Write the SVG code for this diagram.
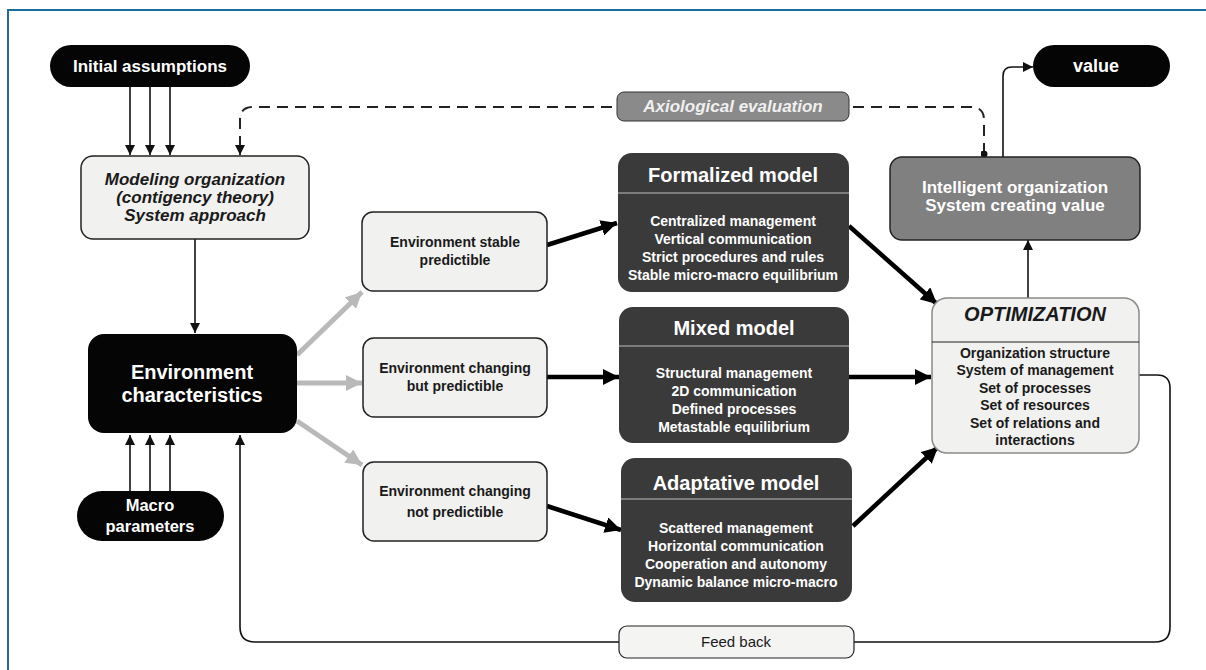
<svg xmlns="http://www.w3.org/2000/svg" width="1206" height="670" viewBox="0 0 1206 670">
  <defs>
    <marker id="ah" viewBox="0 0 10 10" refX="10" refY="5" markerWidth="10" markerHeight="11" markerUnits="userSpaceOnUse" orient="auto">
      <path d="M0,0 L10,5 L0,10 z" fill="#111"/>
    </marker>
    <marker id="ahBig" viewBox="0 0 10 10" refX="10" refY="5" markerWidth="16" markerHeight="16" markerUnits="userSpaceOnUse" orient="auto">
      <path d="M0,0 L10,5 L0,10 z" fill="#000"/>
    </marker>
    <marker id="ahGray" viewBox="0 0 10 10" refX="10" refY="5" markerWidth="16" markerHeight="16" markerUnits="userSpaceOnUse" orient="auto">
      <path d="M0,0 L10,5 L0,10 z" fill="#b9b9b9"/>
    </marker>
    <marker id="dot" viewBox="0 0 10 10" refX="5" refY="5" markerWidth="7" markerHeight="7" markerUnits="userSpaceOnUse">
      <circle cx="5" cy="5" r="5" fill="#111"/>
    </marker>
    <style>
      text { font-family: "Liberation Sans", Arial, sans-serif; font-weight: bold; text-anchor: middle; }
      .pill { fill: #050505; }
      .light { fill: #f1f1ef; stroke: #222; stroke-width: 1.5; }
      .dark { fill: #3a3a3a; }
      .w { fill: #ffffff; }
      .k { fill: #1a1a1a; }
      .it { font-style: italic; }
      .n { font-weight: normal; }
      .thin { fill: none; stroke: #111; stroke-width: 1.6; }
      .thick { fill: none; stroke: #000; stroke-width: 4.5; }
      .gray { fill: none; stroke: #b9b9b9; stroke-width: 5; }
      .dash { fill: none; stroke: #222; stroke-width: 2; stroke-dasharray: 11 7; }
    </style>
  </defs>

  <rect width="1206" height="670" fill="#ffffff"/>
  <!-- frame -->
  <path d="M8,670 L8,10 L1206,10" fill="none" stroke="#1b6d9b" stroke-width="2"/>

  <!-- connectors -->
  <g id="connectors">
    <line class="thin" x1="130" y1="87" x2="130" y2="155" marker-end="url(#ah)"/>
    <line class="thin" x1="150" y1="87" x2="150" y2="155" marker-end="url(#ah)"/>
    <line class="thin" x1="170" y1="87" x2="170" y2="155" marker-end="url(#ah)"/>
    <line class="thin" x1="195" y1="239" x2="195" y2="333" marker-end="url(#ah)"/>
    <line class="thin" x1="130" y1="491" x2="130" y2="435" marker-end="url(#ah)"/>
    <line class="thin" x1="150" y1="491" x2="150" y2="435" marker-end="url(#ah)"/>
    <line class="thin" x1="170" y1="491" x2="170" y2="435" marker-end="url(#ah)"/>
    <!-- feedback loop -->
    <path class="thin" d="M1139,375 L1157,375 Q1170,375 1170,388 L1170,627 Q1170,642 1155,642 L255,642 Q240,642 240,627 L240,435" marker-end="url(#ah)"/>
    <!-- axiological evaluation (dashed) -->
    <path class="dash" d="M984,154 L984,120 Q984,107 971,107 L253,107 Q240,107 240,120 L240,150" marker-start="url(#dot)"/>
    <line class="thin" x1="240" y1="145" x2="240" y2="155" marker-end="url(#ah)"/>
    <!-- value -->
    <path class="thin" d="M1003,157 L1003,76 Q1003,67 1012,67 L1033,67" marker-end="url(#ah)"/>
    <line class="thin" x1="1028" y1="298" x2="1028" y2="240" marker-end="url(#ah)"/>
    <!-- gray fan-out -->
    <line class="gray" x1="297" y1="355" x2="362" y2="292" marker-end="url(#ahGray)"/>
    <line class="gray" x1="297" y1="383" x2="362" y2="383" marker-end="url(#ahGray)"/>
    <line class="gray" x1="297" y1="421" x2="362" y2="465" marker-end="url(#ahGray)"/>
    <!-- black thick -->
    <line class="thick" x1="547" y1="245" x2="617" y2="223" marker-end="url(#ahBig)"/>
    <line class="thick" x1="547" y1="377" x2="619" y2="377" marker-end="url(#ahBig)"/>
    <line class="thick" x1="547" y1="506" x2="621" y2="530" marker-end="url(#ahBig)"/>
    <line class="thick" x1="849" y1="226" x2="937" y2="304" marker-end="url(#ahBig)"/>
    <line class="thick" x1="849" y1="377" x2="931" y2="377" marker-end="url(#ahBig)"/>
    <line class="thick" x1="853" y1="526" x2="938" y2="447" marker-end="url(#ahBig)"/>
  </g>

  <g id="initial-assumptions">
    <rect class="pill" x="50" y="45" width="200" height="42" rx="21"/>
    <text class="w" x="150" y="72" font-size="17">Initial assumptions</text>
  </g>

  <g id="modeling-organization">
    <rect class="light" x="81" y="156" width="228" height="83" rx="12"/>
    <text class="k it" x="195" y="185" font-size="17">Modeling organization</text>
    <text class="k it" x="195" y="203" font-size="17">(contigency theory)</text>
    <text class="k it" x="195" y="221" font-size="17">System approach</text>
  </g>

  <g id="axiological-evaluation">
    <rect x="617" y="92" width="232" height="29" rx="7" fill="#8a8a8a" stroke="#333" stroke-width="1"/>
    <text class="it" x="733" y="112" font-size="17" fill="#f0f0f0">Axiological evaluation</text>
  </g>

  <g id="environment-characteristics">
    <rect class="pill" x="88" y="334" width="209" height="99" rx="16"/>
    <text class="w" x="192" y="379" font-size="20">Environment</text>
    <text class="w" x="192" y="402" font-size="20">characteristics</text>
  </g>

  <g id="macro-parameters">
    <rect class="pill" x="77" y="491" width="147" height="50" rx="25"/>
    <text class="w" x="150" y="511" font-size="16.5">Macro</text>
    <text class="w" x="150" y="532" font-size="16.5">parameters</text>
  </g>

  <g id="env-stable">
    <rect class="light" x="362" y="212" width="185" height="79" rx="11"/>
    <text class="k" x="455" y="247" font-size="14">Environment stable</text>
    <text class="k" x="455" y="265" font-size="14">predictible</text>
  </g>

  <g id="env-changing-predictible">
    <rect class="light" x="363" y="338" width="184" height="79" rx="11"/>
    <text class="k" x="455" y="373" font-size="14">Environment changing</text>
    <text class="k" x="455" y="391" font-size="14">but predictible</text>
  </g>

  <g id="env-changing-not-predictible">
    <rect class="light" x="363" y="462" width="184" height="79" rx="11"/>
    <text class="k" x="455" y="496" font-size="14">Environment changing</text>
    <text class="k" x="455" y="517" font-size="14">not predictible</text>
  </g>

  <g id="formalized-model">
    <rect class="dark" x="618" y="153" width="231" height="139" rx="14"/>
    <line x1="618" y1="193" x2="849" y2="193" stroke="#bdbdbd" stroke-width="1"/>
    <text class="w" x="733" y="182" font-size="20">Formalized model</text>
    <text class="w" x="733" y="226" font-size="14">Centralized management</text>
    <text class="w" x="733" y="244" font-size="14">Vertical communication</text>
    <text class="w" x="733" y="262" font-size="14">Strict procedures and rules</text>
    <text class="w" x="733" y="280" font-size="14">Stable micro-macro equilibrium</text>
  </g>

  <g id="mixed-model">
    <rect class="dark" x="619" y="307" width="230" height="136" rx="14"/>
    <line x1="619" y1="346" x2="849" y2="346" stroke="#bdbdbd" stroke-width="1"/>
    <text class="w" x="734" y="335" font-size="20">Mixed model</text>
    <text class="w" x="734" y="378" font-size="14">Structural management</text>
    <text class="w" x="734" y="396" font-size="14">2D communication</text>
    <text class="w" x="734" y="414" font-size="14">Defined processes</text>
    <text class="w" x="734" y="432" font-size="14">Metastable equilibrium</text>
  </g>

  <g id="adaptative-model">
    <rect class="dark" x="621" y="458" width="231" height="144" rx="14"/>
    <line x1="621" y1="499" x2="852" y2="499" stroke="#bdbdbd" stroke-width="1"/>
    <text class="w" x="736" y="490" font-size="20">Adaptative model</text>
    <text class="w" x="736" y="533" font-size="14">Scattered management</text>
    <text class="w" x="736" y="551" font-size="14">Horizontal communication</text>
    <text class="w" x="736" y="569" font-size="14">Cooperation and autonomy</text>
    <text class="w" x="736" y="587" font-size="14">Dynamic balance micro-macro</text>
  </g>

  <g id="optimization">
    <rect x="932" y="298" width="207" height="155" rx="15" fill="#f1f1ef" stroke="#8a8a8a" stroke-width="1.5"/>
    <line x1="932" y1="342" x2="1139" y2="342" stroke="#222" stroke-width="1.2"/>
    <text class="k it" x="1035" y="321" font-size="20">OPTIMIZATION</text>
    <text class="k" x="1035" y="358" font-size="14">Organization structure</text>
    <text class="k" x="1035" y="375" font-size="14">System of management</text>
    <text class="k" x="1035" y="393" font-size="14">Set of processes</text>
    <text class="k" x="1035" y="410" font-size="14">Set of resources</text>
    <text class="k" x="1035" y="428" font-size="14">Set of relations and</text>
    <text class="k" x="1035" y="445" font-size="14">interactions</text>
  </g>

  <g id="intelligent-organization">
    <rect x="890" y="157" width="250" height="83" rx="12" fill="#808080" stroke="#222" stroke-width="1.5"/>
    <text class="w" x="1015" y="193" font-size="17">Intelligent organization</text>
    <text class="w" x="1015" y="211" font-size="17">System creating value</text>
  </g>

  <g id="value">
    <rect class="pill" x="1033" y="45" width="137" height="42" rx="21"/>
    <text class="w" x="1096" y="72" font-size="18">value</text>
  </g>

  <g id="feed-back">
    <rect x="619" y="626" width="235" height="32" rx="8" fill="#f4f4f2" stroke="#222" stroke-width="1.2"/>
    <text class="n k" x="736" y="647" font-size="15">Feed back</text>
  </g>
</svg>
